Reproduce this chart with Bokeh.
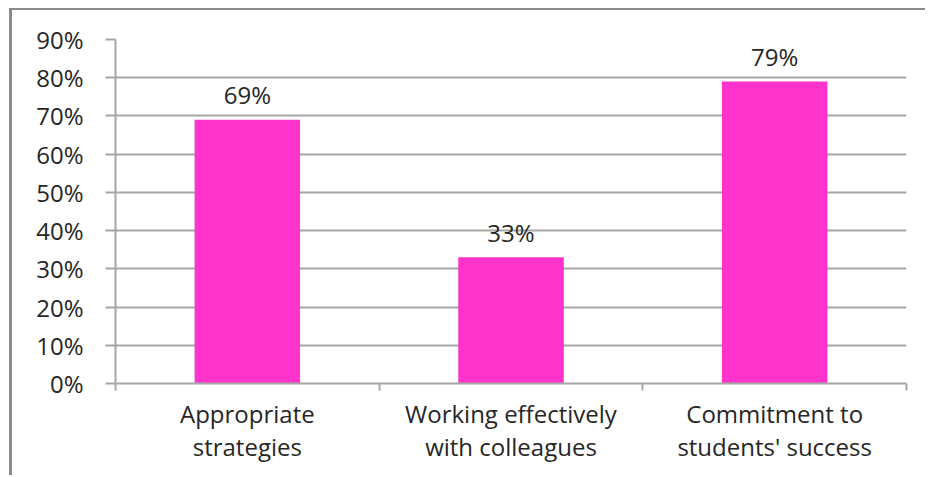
from bokeh.plotting import figure
from bokeh.models import ColumnDataSource, FixedTicker, NumeralTickFormatter, Range1d, LabelSet
from bokeh.core.properties import value
from bokeh.embed import file_html
from bokeh.resources import INLINE

categories = ["Appropriate\nstrategies", "Working effectively\nwith colleagues", "Commitment to\nstudents' success"]
values = [0.69, 0.33, 0.79]
value_labels = ["69%", "33%", "79%"]
y_ticks = [0, 0.1, 0.2, 0.3, 0.4, 0.5, 0.6, 0.7, 0.8, 0.9]

FONT = "Open Sans"
FS = "24px"
TXT = "#262626"
GRID = "#a6a6a6"

xs = [i + 0.5 for i in range(len(categories))]
src = ColumnDataSource(dict(x=xs, top=values, lab=value_labels))

p = figure(width=916, height=467, output_backend="svg", toolbar_location=None,
           x_range=Range1d(0, 3), y_range=Range1d(0, 0.9),
           min_border_left=103, min_border_right=22, min_border_top=29, min_border_bottom=94,
           outline_line_color=None,
           styles={"border-left": "3px solid #8a8a8a", "border-top": "2px solid #8a8a8a",
                   "margin-left": "9px", "margin-top": "8px"})

p.vbar(x="x", top="top", width=0.4, bottom=0, source=src, fill_color="#FF33CC", line_color=None)

p.add_layout(LabelSet(x="x", y="top", text="lab", source=src, text_align="center",
                      text_baseline="middle", y_offset=25, text_font=value(FONT),
                      text_font_size=FS, text_color=TXT))

# x axis
xa = p.xaxis[0]
xa.ticker = FixedTicker(ticks=xs, minor_ticks=[0, 1, 2, 3])
xa.major_label_overrides = {x: c for x, c in zip(xs, categories)}
xa.major_tick_out = 0
xa.major_tick_in = 0
xa.minor_tick_out = 7
xa.minor_tick_in = 0
xa.minor_tick_line_color = GRID
xa.minor_tick_line_width = 2
xa.axis_line_color = GRID
xa.axis_line_width = 2
xa.major_label_text_font = FONT
xa.major_label_text_font_size = FS
xa.major_label_text_color = TXT
xa.major_label_text_line_height = 1.0
xa.major_label_standoff = 6

# y axis
ya = p.yaxis[0]
ya.ticker = FixedTicker(ticks=y_ticks, minor_ticks=[])
ya.formatter = NumeralTickFormatter(format="0%")
ya.major_tick_out = 10
ya.major_tick_in = 0
ya.major_tick_line_color = GRID
ya.major_tick_line_width = 2
ya.axis_line_color = GRID
ya.axis_line_width = 2
ya.major_label_text_font = FONT
ya.major_label_text_font_size = FS
ya.major_label_text_color = TXT
ya.major_label_standoff = 22

p.xgrid.grid_line_color = None
p.ygrid.ticker = FixedTicker(ticks=y_ticks)
p.ygrid.grid_line_color = GRID
p.ygrid.grid_line_width = 2

open("out.html", "w").write(file_html(p, INLINE))
